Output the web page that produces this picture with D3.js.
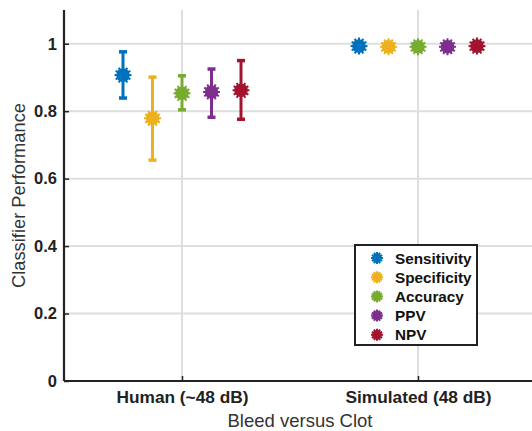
<!DOCTYPE html>
<html><head><meta charset="utf-8">
<script src="https://cdn.jsdelivr.net/npm/d3@7"></script>
<style>body{margin:0;background:#fff}svg{display:block}</style>
</head><body>
<script>
const groups = ["Human (~48 dB)", "Simulated (48 dB)"];
const metrics = ["Sensitivity", "Specificity", "Accuracy", "PPV", "NPV"];
const colors = ["#0072BD", "#EDB120", "#77AC30", "#7E2F8E", "#A2142F"];
const humanMean = [0.907, 0.779, 0.853, 0.857, 0.862];
const humanLow  = [0.839, 0.655, 0.804, 0.782, 0.776];
const humanHigh = [0.976, 0.901, 0.905, 0.925, 0.950];
const simMean = [0.993, 0.991, 0.991, 0.991, 0.993];
const yTicks = [0, 0.2, 0.4, 0.6, 0.8, 1];
const yTickLabels = ["0", "0.2", "0.4", "0.6", "0.8", "1"];

const W = 532, H = 431;
const FONT = "Liberation Sans, Arial, Helvetica, sans-serif";
const svg = d3.select("body").append("svg").attr("width", W).attr("height", H);
const mLeft = 64, mBottom = 381, mTop = 10;
const x = d3.scaleLinear().domain([0.5, 2.5]).range([mLeft, mLeft + 472]);
const y = d3.scaleLinear().domain([0, 1.1]).range([mBottom, mTop]);
const offset = d3.scaleLinear().domain([0, 4]).range([-0.25, 0.25]);

// grid
const g = svg.append("g");
g.selectAll(".gy").data(yTicks.slice(1)).join("line")
  .attr("x1", mLeft).attr("x2", W).attr("y1", d => y(d)).attr("y2", d => y(d))
  .attr("stroke", "#dedede").attr("stroke-width", 2);
g.selectAll(".gx").data([1, 2]).join("line")
  .attr("x1", d => x(d)).attr("x2", d => x(d)).attr("y1", mTop).attr("y2", mBottom)
  .attr("stroke", "#dedede").attr("stroke-width", 2);

// axes
const yAxis = d3.axisLeft(y).tickValues(yTicks).tickFormat((d, i) => yTickLabels[i]).tickSizeInner(-5).tickSizeOuter(0).tickPadding(7);
const ya = svg.append("g").attr("transform", `translate(${mLeft},0)`).call(yAxis);
ya.select(".domain").attr("stroke", "#222").attr("stroke-width", 2.2).attr("d", `M0,${mTop}V${mBottom}`);
ya.selectAll(".tick line").attr("stroke", "#222").attr("stroke-width", 1.5);
ya.selectAll("text").attr("font-family", FONT).attr("font-weight", "bold").attr("font-size", 16.5).attr("fill", "#222");

const xAxis = d3.axisBottom(x).tickValues([1, 2]).tickFormat((d, i) => groups[i]).tickSizeInner(-5).tickSizeOuter(0).tickPadding(10);
const xa = svg.append("g").attr("transform", `translate(0,${mBottom})`).call(xAxis);
xa.select(".domain").attr("stroke", "#222").attr("stroke-width", 2.2).attr("d", `M${mLeft},0H${W}`);
xa.selectAll(".tick line").attr("stroke", "#222").attr("stroke-width", 1.5);
xa.selectAll("text").attr("font-family", FONT).attr("font-weight", "bold").attr("font-size", 17.3).attr("fill", "#222");

svg.append("text").attr("x", x(1.5)).attr("y", 427).attr("text-anchor", "middle")
  .attr("font-family", FONT).attr("font-size", 18.5).attr("fill", "#333")
  .text("Bleed versus Clot");
svg.append("text").attr("transform", `translate(25,${y(0.55)}) rotate(-90)`).attr("text-anchor", "middle")
  .attr("font-family", FONT).attr("font-size", 18.3).attr("fill", "#333")
  .text("Classifier Performance");

function marker(sel, cx, cy, color, r) {
  const m = sel.append("g").attr("transform", `translate(${cx},${cy})`);
  m.append("circle").attr("r", r * 0.8).attr("fill", color);
  for (let k = 0; k < 12; k++) {
    const a = k * Math.PI / 6;
    m.append("line").attr("x1", 0).attr("y1", 0)
      .attr("x2", Math.cos(a) * r).attr("y2", Math.sin(a) * r)
      .attr("stroke", color).attr("stroke-width", 2);
  }
}

const pts = svg.append("g");
metrics.forEach((m, i) => {
  const cx = x(1 + offset(i));
  pts.append("line").attr("x1", cx).attr("x2", cx).attr("y1", y(humanLow[i])).attr("y2", y(humanHigh[i]))
    .attr("stroke", colors[i]).attr("stroke-width", 3);
  [humanLow[i], humanHigh[i]].forEach(v => {
    pts.append("line").attr("x1", cx - 4).attr("x2", cx + 4).attr("y1", y(v)).attr("y2", y(v))
      .attr("stroke", colors[i]).attr("stroke-width", 3.5);
  });
  marker(pts, cx, y(humanMean[i]), colors[i], 8.5);
  marker(pts, x(2 + offset(i)), y(simMean[i]), colors[i], 8.5);
});

// legend
const lg = svg.append("g").attr("transform", "translate(355,245)");
lg.append("rect").attr("width", 122).attr("height", 100).attr("fill", "#fff").attr("stroke", "#222").attr("stroke-width", 2);
metrics.forEach((m, i) => {
  const yy = 13 + i * 19.2;
  marker(lg, 22, yy, colors[i], 6);
  lg.append("text").attr("x", 40).attr("y", yy + 5.5)
    .attr("font-family", FONT).attr("font-weight", "bold").attr("font-size", 15.3).attr("fill", "#111")
    .text(m);
});
</script>
</body></html>
